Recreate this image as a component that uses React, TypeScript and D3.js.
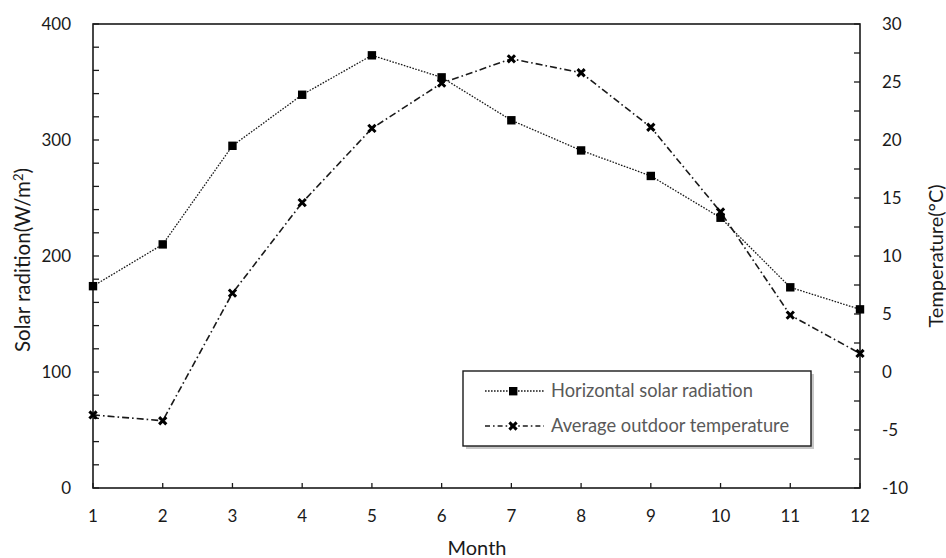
import React from "react";
import * as d3 from "d3";

const months = [1, 2, 3, 4, 5, 6, 7, 8, 9, 10, 11, 12];
const solarRadiation = [174, 210, 295, 339, 373, 354, 317, 291, 269, 233, 173, 154];
const outdoorTemperature = [-3.7, -4.2, 6.8, 14.6, 21.0, 24.9, 27.0, 25.8, 21.1, 13.8, 4.9, 1.6];
const leftTicks = [0, 100, 200, 300, 400];
const rightTicks = [-10, -5, 0, 5, 10, 15, 20, 25, 30];
const seriesNames = ["Horizontal solar radiation", "Average outdoor temperature"];

const W = 946;
const H = 558;
const M = { left: 93, right: 860, top: 24, bottom: 488 };
const FONT = "Lato, 'Open Sans', sans-serif";
const INK = "#1a1a1a";

export default function App() {
  const x = d3.scaleLinear().domain([1, 12]).range([M.left, M.right]);
  const yL = d3.scaleLinear().domain([0, 400]).range([M.bottom, M.top]);
  const yR = d3.scaleLinear().domain([-10, 30]).range([M.bottom, M.top]);

  const solarLine = d3
    .line<number>()
    .x((_, i) => x(months[i]))
    .y((d) => yL(d))(solarRadiation) as string;
  const tempLine = d3
    .line<number>()
    .x((_, i) => x(months[i]))
    .y((d) => yR(d))(outdoorTemperature) as string;

  const leftMinor = d3.range(0, 401, 20);
  const rightMinor = d3.range(-10, 30.01, 2.5);
  const xMark = "M-3.6,-3.6L3.6,3.6M-3.6,3.6L3.6,-3.6";
  const dotted = "1.6,1.4";
  const dashDot = "7,3,1.6,3";

  const lg = { x: 463, y: 371, w: 348, h: 75 };

  return (
    <svg
      width={W}
      height={H}
      style={{ position: "absolute", left: 0, top: 0, background: "#fff" }}
      fontFamily={FONT}
    >
      <rect x={0} y={0} width={W} height={H} fill="#fff" />
      {/* minor ticks */}
      {leftMinor.map((v) => (
        <line key={"lt" + v} x1={M.left} x2={M.left + 6} y1={yL(v)} y2={yL(v)} stroke={INK} strokeWidth={1.3} />
      ))}
      {rightMinor.map((v) => (
        <line key={"rt" + v} x1={M.right - 6} x2={M.right} y1={yR(v)} y2={yR(v)} stroke={INK} strokeWidth={1.3} />
      ))}
      {months.map((m) => (
        <line key={"bt" + m} x1={x(m)} x2={x(m)} y1={M.bottom} y2={M.bottom - 5} stroke={INK} strokeWidth={1.3} />
      ))}
      {/* frame */}
      <rect
        x={M.left}
        y={M.top}
        width={M.right - M.left}
        height={M.bottom - M.top}
        fill="none"
        stroke={INK}
        strokeWidth={1.6}
      />
      {/* tick labels */}
      {leftTicks.map((v) => (
        <text key={"ll" + v} x={71} y={yL(v)} dy="0.35em" textAnchor="end" fontSize={17} fill={INK}>
          {v}
        </text>
      ))}
      {rightTicks.map((v) => (
        <text key={"rl" + v} x={882} y={yR(v)} dy="0.35em" textAnchor="start" fontSize={17} fill={INK}>
          {v}
        </text>
      ))}
      {months.map((m) => (
        <text key={"xl" + m} x={x(m)} y={522} textAnchor="middle" fontSize={17} fill={INK}>
          {m}
        </text>
      ))}
      {/* axis titles */}
      <text x={477} y={555} textAnchor="middle" fontSize={20} fill={INK}>
        Month
      </text>
      <text transform={`translate(30,260) rotate(-90)`} textAnchor="middle" fontSize={20.5} fill={INK}>
        Solar radition(W/m
        <tspan dy={-7} fontSize={13}>2</tspan>
        <tspan dy={7}>)</tspan>
      </text>
      <text transform={`translate(943,256) rotate(-90)`} textAnchor="middle" fontSize={20} fill={INK}>
        Temperature(°C)
      </text>
      {/* series */}
      <path d={solarLine} fill="none" stroke={INK} strokeWidth={1.3} strokeDasharray={dotted} />
      <path d={tempLine} fill="none" stroke={INK} strokeWidth={1.6} strokeDasharray={dashDot} />
      {solarRadiation.map((v, i) => (
        <rect key={"sm" + i} x={x(months[i]) - 4.2} y={yL(v) - 4.2} width={8.4} height={8.4} fill="#000" />
      ))}
      {outdoorTemperature.map((v, i) => (
        <path
          key={"tm" + i}
          d={xMark}
          transform={`translate(${x(months[i])},${yR(v)})`}
          stroke="#000"
          strokeWidth={3}
          fill="none"
        />
      ))}
      {/* legend */}
      <rect x={lg.x + 3} y={lg.y + 3} width={lg.w} height={lg.h} fill="#c8c8c8" />
      <rect x={lg.x} y={lg.y} width={lg.w} height={lg.h} fill="#fff" stroke={INK} strokeWidth={1.4} />
      <line x1={485} x2={544} y1={391} y2={391} stroke={INK} strokeWidth={1.3} strokeDasharray={dotted} />
      <rect x={509} y={387} width={8.4} height={8.4} fill="#000" />
      <text x={551} y={391} dy="0.35em" fontSize={18.3} fill="#595959">
        {seriesNames[0]}
      </text>
      <line x1={485} x2={544} y1={426} y2={426} stroke={INK} strokeWidth={1.6} strokeDasharray="5,3,1.6,3" />
      <path d={xMark} transform="translate(513,426)" stroke="#000" strokeWidth={3} fill="none" />
      <text x={551} y={426} dy="0.35em" fontSize={18.3} fill="#595959">
        {seriesNames[1]}
      </text>
    </svg>
  );
}
